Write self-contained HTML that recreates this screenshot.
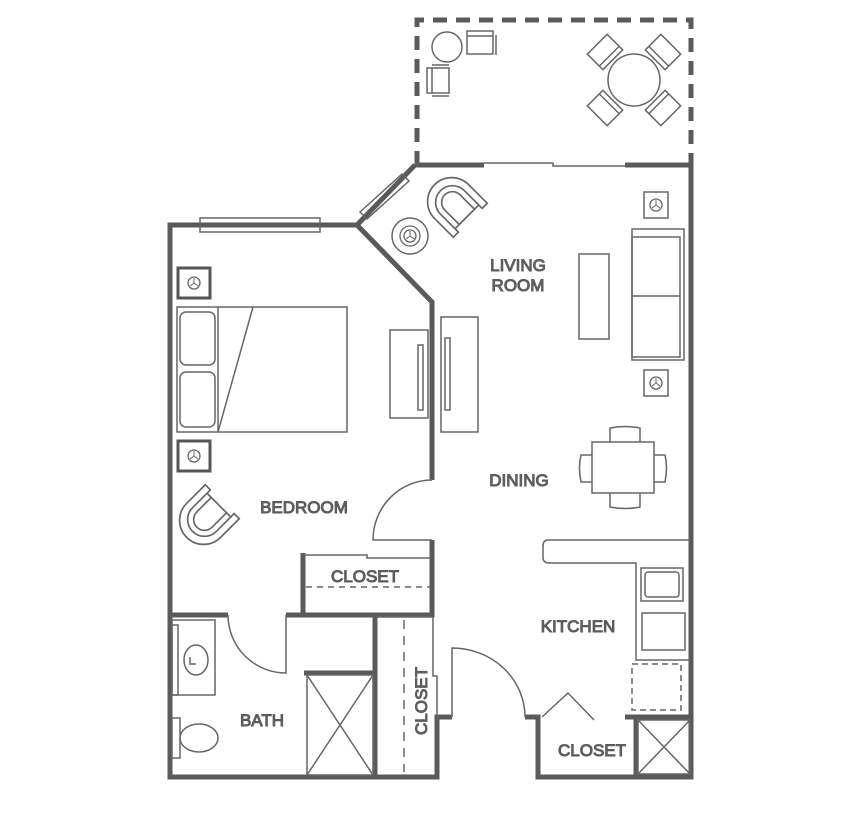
<!DOCTYPE html>
<html><head><meta charset="utf-8"><style>
html,body{margin:0;padding:0;background:#fff}
svg{display:block}
text{font-family:"Liberation Sans",sans-serif;font-size:17px;fill:#666;font-weight:normal}
</style></head><body>
<svg width="861" height="815" viewBox="0 0 861 815" xmlns="http://www.w3.org/2000/svg">
<defs>
<g id="chair">
<path d="M-20,-18 L-20,4 A20,20 0 0 0 20,4 L20,-18 L14,-18 L14,3 A14,14 0 0 1 -14,3 L-14,-18 Z" fill="#fff" stroke="#666" stroke-width="1.4"/>
<path d="M-14,-14 L14,-14" fill="none" stroke="#666" stroke-width="1.4"/>
<path d="M-9,-14 L-9,3 A9,9 0 0 0 9,3 L9,-14" fill="none" stroke="#666" stroke-width="1.4"/>
</g>
<g id="lamp"><circle r="6" fill="none" stroke="#666" stroke-width="1.3"/><path d="M0,0 L0,-5 M0,0 L-4,3 M0,0 L4,3" stroke="#666" stroke-width="1"/></g>
</defs>
<g fill="none" stroke="#5a5a5a">
<path d="M417,165 L417,20 L691,20 L691,165" stroke-width="5" stroke-dasharray="14,9"/>
<g stroke-width="5">
<path d="M415,165 L484,165 M625,165 L691,165 L691,777 L538,777 L538,717 L525,717"/>
<path d="M415,165 L357,225 L170,225 L170,777 L437,777 L437,717 L452,717"/>
<path d="M357,225 L432,302 L432,480 M432,540 L432,615 L286,615 M228,615 L170,615"/>
<path d="M303,553 L303,615 M375,615 L375,777 M304,673 L375,673"/>
<path d="M636,717 L636,777 M625,717 L691,717"/>
</g>
<g stroke="#666" stroke-width="1.5">
<path d="M484,163 L553,163 L553,166 L625,166"/>
<rect x="200" y="218" width="120" height="14"/>
<path d="M360,212 L402,174 L409,181 L367,219 Z"/>
<path d="M303,555 L367,555 L367,558 L430,558"/>
<path d="M306,587 L430,587" stroke-dasharray="6,5"/>
<path d="M432,480 A59,60 0 0 0 373,540 L432,540"/>
<path d="M228,615 A58,58 0 0 0 286,673 L286,615"/>
<rect x="307" y="675" width="66" height="100"/>
<path d="M307,675 L373,775 M373,675 L307,775"/>
<path d="M377,617 L433,617 L433,676 L437,676 L437,717"/>
<path d="M404,620 L404,772" stroke-dasharray="9,7"/>
<path d="M452,717 L452,648 A73,69 0 0 1 525,717"/>
<path d="M542,717 L568,693 L594,720"/>
<rect x="638" y="720" width="52" height="54"/>
<path d="M638,720 L690,774 M690,720 L638,774"/>
<path d="M690,540 L548,540 Q543,540 543,546 L543,557 Q543,563 549,563 L636,563 L636,660 L690,660"/>
<rect x="641" y="568" width="42" height="33"/>
<rect x="645" y="572" width="34" height="25" rx="3"/>
<rect x="642" y="613" width="43" height="37"/>
<rect x="632" y="664" width="49" height="46" stroke-dasharray="6,4"/>
<rect x="172" y="620" width="43" height="75"/>
<rect x="172" y="625" width="6" height="70"/>
<ellipse cx="196" cy="660" rx="12" ry="15"/>
<path d="M190,657 L190,664 L196,664"/>
<rect x="172" y="718" width="8" height="40"/>
<ellipse cx="199" cy="738" rx="19" ry="14"/>
<rect x="177" y="307" width="170" height="125"/>
<path d="M218,307 L218,432 M253,307 L218,432"/>
<rect x="180" y="312" width="35" height="53" rx="6"/>
<rect x="180" y="372" width="35" height="55" rx="6"/>
<rect x="390" y="330" width="38" height="88"/>
<rect x="418" y="345" width="5" height="65"/>
<rect x="441" y="317" width="37" height="115"/>
<rect x="445" y="338" width="5" height="72"/>
<rect x="579" y="254" width="30" height="85"/>
<rect x="632" y="229" width="52" height="131"/>
<rect x="632" y="237" width="48" height="120"/>
<path d="M632,296 L680,296"/>
<circle cx="410" cy="236" r="18"/>
<rect x="592" y="442" width="62" height="51"/>
<path d="M610,442 L610,428 Q625,425 640,428 L640,442"/>
<path d="M610,493 L610,507 Q625,510 640,507 L640,493"/>
<path d="M592,455 L581,455 Q578,467 581,482 L592,482"/>
<path d="M654,455 L665,455 Q668,467 665,482 L654,482"/>
<circle cx="447" cy="47" r="15"/>
<rect x="467" y="31" width="26" height="23"/><path d="M467,36 L493,36 M496,35 L496,55"/>
<rect x="427" y="68" width="22" height="25"/><path d="M432,68 L432,93 M432,65 L449,65 M432,96 L449,96"/>
</g>
<g fill="#fff" stroke="#666" stroke-width="1.5">
<g transform="translate(605,52) rotate(-45)"><rect x="-14" y="-11" width="28" height="22"/><path d="M-14,6 L14,6"/></g>
<g transform="translate(663,52) rotate(45)"><rect x="-14" y="-11" width="28" height="22"/><path d="M-14,6 L14,6"/></g>
<g transform="translate(605,108) rotate(-135)"><rect x="-14" y="-11" width="28" height="22"/><path d="M-14,6 L14,6"/></g>
<g transform="translate(663,108) rotate(135)"><rect x="-14" y="-11" width="28" height="22"/><path d="M-14,6 L14,6"/></g>
<circle cx="634" cy="80" r="26"/>
</g>
<g stroke="#555" stroke-width="3" fill="none">
<rect x="178" y="268" width="32" height="30"/>
<rect x="178" y="441" width="32" height="30"/>
</g>
<g fill="none" stroke="#666" stroke-width="1.5">
<rect x="644" y="192" width="24" height="26"/><rect x="644" y="370" width="24" height="26"/>
</g>
<use href="#lamp" x="194" y="283"/><use href="#lamp" x="194" y="456"/>
<use href="#lamp" x="656" y="205"/><use href="#lamp" x="656" y="383"/>
<use href="#lamp" x="410" y="236"/>
<circle cx="410" cy="236" r="10" fill="none" stroke="#666" stroke-width="1.3"/>
<use href="#chair" transform="translate(207,517) rotate(45) scale(1.2)"/>
<use href="#chair" transform="translate(455,205) rotate(135) scale(1.2)"/>
<text x="518" y="271" text-anchor="middle">LIVING</text>
<text x="518" y="291" text-anchor="middle">ROOM</text>
<text x="519" y="486" text-anchor="middle">DINING</text>
<text x="304" y="513" text-anchor="middle">BEDROOM</text>
<text x="578" y="632" text-anchor="middle">KITCHEN</text>
<text x="262" y="726" text-anchor="middle">BATH</text>
<text x="365" y="582" text-anchor="middle">CLOSET</text>
<text x="592" y="756" text-anchor="middle">CLOSET</text>
<text transform="translate(427,701) rotate(-90)" text-anchor="middle">CLOSET</text>
</svg>
</body></html>
